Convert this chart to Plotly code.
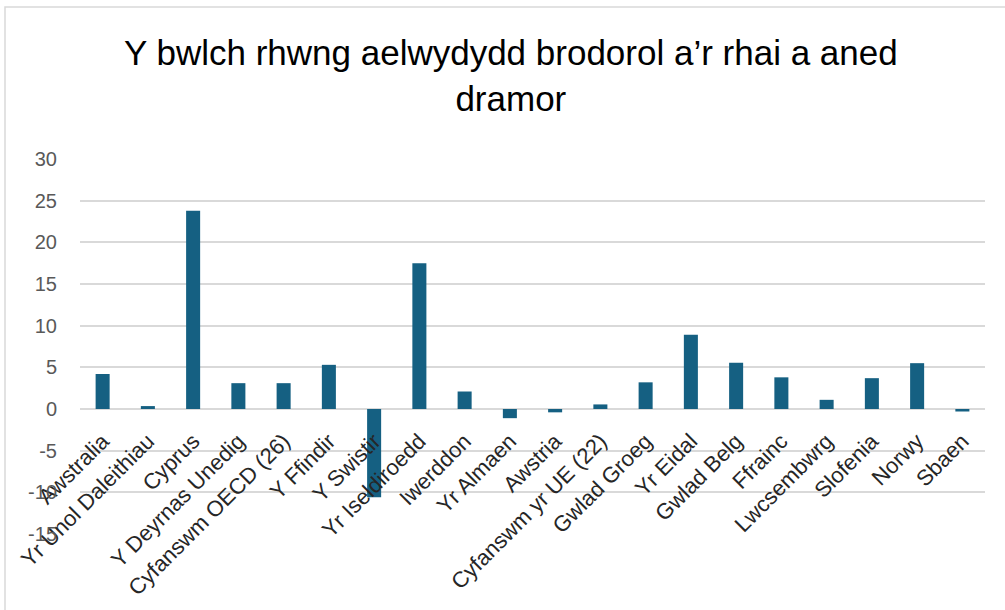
import plotly.graph_objects as go

categories = ["Awstralia", "Yr Unol Daleithiau", "Cyprus", "Y Deyrnas Unedig",
              "Cyfanswm OECD (26)", "Y Ffindir", "Y Swistir", "Yr Iseldiroedd",
              "Iwerddon", "Yr Almaen", "Awstria", "Cyfanswm yr UE (22)",
              "Gwlad Groeg", "Yr Eidal", "Gwlad Belg", "Ffrainc", "Lwcsembwrg",
              "Slofenia", "Norwy", "Sbaen"]
values = [4.2, 0.35, 23.8, 3.1, 3.1, 5.3, -10.6, 17.5, 2.1, -1.1, -0.4, 0.55,
          3.2, 8.9, 5.55, 3.8, 1.1, 3.7, 5.5, -0.3]
y_ticks = [-15, -10, -5, 0, 5, 10, 15, 20, 25, 30]
y_tick_labels = ["-15", "-10", "-5", "0", "5", "10", "15", "20", "25", "30"]
title_text = "Y bwlch rhwng aelwydydd brodorol a’r rhai a aned<br>dramor"

W, H = 1005, 610
ML, MR, MT, MB = 80, 20, 159, 76
ymin, ymax = -15, 30
pw, ph = W - ML - MR, H - MT - MB

fig = go.Figure(go.Bar(x=categories, y=values, marker_color="#156082",
                       marker_line_width=0))

fig.update_layout(
    width=W, height=H,
    margin=dict(l=ML, r=MR, t=MT, b=MB),
    paper_bgcolor="white", plot_bgcolor="white",
    bargap=0.69,
    showlegend=False,
    font=dict(family="Liberation Sans, Arial, sans-serif"),
)

# title (two lines, centred)
fig.add_annotation(text=title_text, xref="paper", yref="paper",
                   x=(511 - ML) / pw, y=(H - MB - 76) / ph,
                   xanchor="center", yanchor="middle", showarrow=False,
                   font=dict(family="Liberation Sans, Arial, sans-serif",
                             size=35, color="#000000"))

zero_pos = (0 - ymin) / (ymax - ymin)
fig.update_xaxes(
    anchor="free", position=zero_pos, tickangle=-45,
    showline=False, showgrid=False, ticks="", automargin=False,
    ticklabelstandoff=14,
    tickfont=dict(size=22, color="#262626"),
)
fig.update_yaxes(
    range=[ymin, ymax], tickvals=y_ticks, ticktext=y_tick_labels, showgrid=True,
    gridcolor="#d9d9d9", gridwidth=1.5, zeroline=True, zerolinecolor="#d9d9d9",
    zerolinewidth=1.5, ticks="", ticklabelstandoff=22, automargin=False,
    tickfont=dict(size=20, color="#595959"),
)

# chart-area border
fig.add_shape(type="rect", xref="paper", yref="paper",
              x0=(5 - ML) / pw, x1=(W + 5 - ML) / pw,
              y0=(H - MB - (H + 5)) / ph, y1=(H - MB - 7) / ph,
              line=dict(color="#d9d9d9", width=1.5), fillcolor="rgba(0,0,0,0)",
              layer="below")

fig.write_html("out.html", config={"displayModeBar": False},
               post_script="document.body.style.margin='0';")
